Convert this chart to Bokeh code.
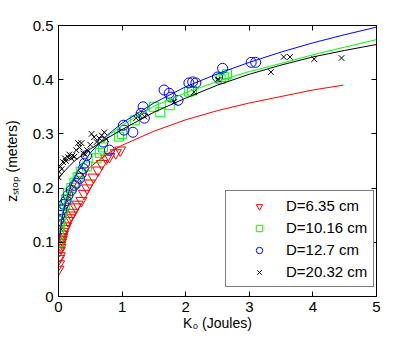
from bokeh.plotting import figure
from bokeh.models import (Range1d, FixedTicker, LinearAxis, Legend)
from bokeh.embed import file_html
from bokeh.resources import INLINE

# ---------------- data ----------------
x_ticks = [0, 1, 2, 3, 4, 5]
x_tick_labels = ["0", "1", "2", "3", "4", "5"]
y_ticks = [0, 0.1, 0.2, 0.3, 0.4, 0.5]
y_tick_labels = ["0", "0.1", "0.2", "0.3", "0.4", "0.5"]

x_title = "K\u2080 (Joules)"
y_title = "z\u209b\u209c\u2092\u209a (meters)"

series_names = ["D=6.35 cm", "D=10.16 cm", "D=12.7 cm", "D=20.32 cm"]

# D = 6.35 cm (red triangles)
k_red = [0.0, 0.01, 0.01, 0.02, 0.02, 0.03, 0.03, 0.04, 0.05, 0.06, 0.07, 0.08, 0.1, 0.12,
         0.15, 0.18, 0.2, 0.23, 0.27, 0.3, 0.36, 0.4, 0.45, 0.49, 0.55, 0.62, 0.68, 0.75,
         0.8, 0.9, 0.97]
z_red = [0.05, 0.06, 0.07, 0.075, 0.085, 0.09, 0.095, 0.10, 0.105, 0.11, 0.115, 0.12, 0.125,
         0.13, 0.14, 0.145, 0.15, 0.155, 0.165, 0.17, 0.177, 0.19, 0.2, 0.209, 0.22, 0.233,
         0.245, 0.255, 0.258, 0.265, 0.27]

# D = 10.16 cm (green squares)
k_green = [0.0, 0.01, 0.02, 0.03, 0.05, 0.07, 0.1, 0.12, 0.15, 0.2, 0.25, 0.3, 0.35, 0.45,
           0.6, 0.65, 0.7, 0.95, 1.0, 1.2, 1.5, 1.6, 1.75, 2.05, 2.1, 2.55, 2.6, 2.65]
z_green = [0.10, 0.12, 0.13, 0.14, 0.15, 0.16, 0.17, 0.18, 0.19, 0.2, 0.21, 0.22, 0.23, 0.24,
           0.255, 0.265, 0.275, 0.295, 0.3, 0.325, 0.35, 0.34, 0.353, 0.378, 0.38, 0.401,
           0.405, 0.41]

# D = 12.7 cm (blue circles)
k_blue = [0.0, 0.02, 0.05, 0.08, 0.12, 0.15, 0.2, 0.25, 0.28, 0.33, 0.36, 0.39, 0.41, 0.44,
          0.7, 0.8, 1.02, 1.03, 1.17, 1.3, 1.35, 1.33, 1.66, 1.74, 1.77, 1.88, 2.05, 2.11,
          2.16, 2.5, 2.58, 3.03, 3.1]
z_blue = [0.14, 0.15, 0.16, 0.17, 0.177, 0.187, 0.196, 0.205, 0.209, 0.218, 0.227, 0.236,
          0.246, 0.26, 0.285, 0.27, 0.316, 0.307, 0.303, 0.338, 0.329, 0.35, 0.381, 0.375,
          0.368, 0.362, 0.394, 0.396, 0.394, 0.405, 0.421, 0.432, 0.432]

# D = 20.32 cm (black crosses)
k_black = [0.0, 0.01, 0.03, 0.05, 0.07, 0.1, 0.12, 0.15, 0.17, 0.2, 0.22, 0.25, 0.28, 0.31,
           0.33, 0.36, 0.39, 0.42, 0.45, 0.5, 0.52, 0.56, 0.6, 0.64, 0.68, 0.72, 0.75, 1.22,
           1.27, 1.35, 1.82, 2.13, 2.5, 2.52, 3.34, 3.54, 3.64, 4.02, 4.45]
z_black = [0.22, 0.23, 0.24, 0.235, 0.248, 0.255, 0.25, 0.257, 0.262, 0.255, 0.26, 0.258,
           0.27, 0.283, 0.275, 0.283, 0.264, 0.262, 0.27, 0.28, 0.3, 0.294, 0.285, 0.292,
           0.297, 0.303, 0.29, 0.329, 0.335, 0.332, 0.359, 0.377, 0.4, 0.4, 0.414, 0.442,
           0.442, 0.438, 0.44]

# fitted curves
fit_k_red = [0.01, 0.05, 0.1, 0.2, 0.3, 0.5, 0.75, 1.0, 1.5, 2.0, 2.5, 3.0, 3.5, 4.0, 4.48]
fit_z_red = [0.099, 0.143, 0.167, 0.195, 0.213, 0.239, 0.262, 0.279, 0.305, 0.326, 0.343,
             0.357, 0.369, 0.381, 0.390]
fit_k = [0.02, 0.05, 0.1, 0.2, 0.3, 0.5, 0.75, 1.0, 1.5, 2.0, 2.5, 3.0, 3.5, 4.0, 4.5, 5.0]
fit_z_green = [0.118, 0.149, 0.177, 0.211, 0.234, 0.265, 0.294, 0.316, 0.351, 0.376, 0.397,
               0.415, 0.430, 0.446, 0.460, 0.474]
fit_z_blue = [0.109, 0.141, 0.170, 0.206, 0.230, 0.265, 0.296, 0.320, 0.357, 0.387, 0.411,
              0.432, 0.451, 0.468, 0.483, 0.497]
fit_k_black = [0.0, 0.1, 0.25, 0.5, 0.75, 1.0, 1.5, 2.0, 2.5, 3.0, 3.5, 4.0, 4.5, 5.0]
fit_z_black = [0.218, 0.232, 0.250, 0.272, 0.291, 0.308, 0.340, 0.366, 0.390, 0.410, 0.427,
               0.442, 0.454, 0.465]

# ---------------- figure ----------------
FONT = "Liberation Sans"
W, H = 415, 340

p = figure(width=W, height=H, x_range=Range1d(0, 5), y_range=Range1d(0, 0.5),
           output_backend="svg", toolbar_location=None,
           min_border_left=57, min_border_right=39, min_border_top=25, min_border_bottom=44)
p.grid.visible = False
p.outline_line_color = "black"
p.background_fill_color = "white"
p.border_fill_color = "white"

def style_axis(ax):
    ax.axis_line_color = "black"
    ax.major_tick_line_color = "black"
    ax.major_tick_in = 5
    ax.major_tick_out = 0
    ax.minor_tick_line_color = None
    ax.major_label_text_font = FONT
    ax.major_label_text_font_size = "15px"
    ax.major_label_text_color = "black"
    ax.axis_label_text_font = FONT
    ax.axis_label_text_font_size = "14px"
    ax.axis_label_text_font_style = "normal"
    ax.axis_label_text_color = "black"

xa = p.xaxis[0]
ya = p.yaxis[0]
xa.ticker = FixedTicker(ticks=x_ticks)
ya.ticker = FixedTicker(ticks=y_ticks)
xa.major_label_overrides = {t: s for t, s in zip(x_ticks, x_tick_labels)}
ya.major_label_overrides = {t: s for t, s in zip(y_ticks, y_tick_labels)}
style_axis(xa)
style_axis(ya)
xa.major_label_standoff = 5
ya.major_label_standoff = 5
xa.axis_label = x_title
ya.axis_label = y_title
xa.axis_label_standoff = 0
ya.axis_label_standoff = 10

top_ax = LinearAxis(ticker=FixedTicker(ticks=x_ticks),
                    major_label_overrides={t: "" for t in x_ticks})
right_ax = LinearAxis(ticker=FixedTicker(ticks=y_ticks),
                      major_label_overrides={t: "" for t in y_ticks})
for ax in (top_ax, right_ax):
    style_axis(ax)
    ax.major_label_standoff = 0
p.add_layout(top_ax, "above")
p.add_layout(right_ax, "right")

# markers
r1 = p.scatter(k_red, z_red, marker="inverted_triangle", size=11, fill_color=None,
               line_color="#ff0000", line_width=1)
r2 = p.scatter(k_green, z_green, marker="square", size=9, fill_color=None,
               line_color="#00ff00", line_width=1)
r3 = p.scatter(k_blue, z_blue, marker="circle", size=10, fill_color=None,
               line_color="#0000ff", line_width=1)
r4 = p.scatter(k_black, z_black, marker="x", size=8, line_color="black", line_width=1)

# fitted curves
p.line(fit_k_red, fit_z_red, line_color="#ff0000", line_width=1)
p.line(fit_k, fit_z_green, line_color="#00ff00", line_width=1)
p.line(fit_k, fit_z_blue, line_color="#0000ff", line_width=1)
p.line(fit_k_black, fit_z_black, line_color="black", line_width=1)

legend = Legend(items=[(series_names[0], [r1]), (series_names[1], [r2]),
                       (series_names[2], [r3]), (series_names[3], [r4])],
                location=(167, 9))
legend.label_text_font = FONT
legend.label_text_font_size = "15px"
legend.label_text_color = "black"
legend.padding = 6
legend.margin = 0
legend.glyph_width = 54
legend.glyph_height = 16
legend.label_height = 16
legend.label_standoff = 0
legend.spacing = 5
legend.border_line_color = "black"
legend.border_line_width = 1
legend.background_fill_color = "white"
legend.background_fill_alpha = 1
p.add_layout(legend, "center")

open("out.html", "w").write(file_html(p, INLINE))
